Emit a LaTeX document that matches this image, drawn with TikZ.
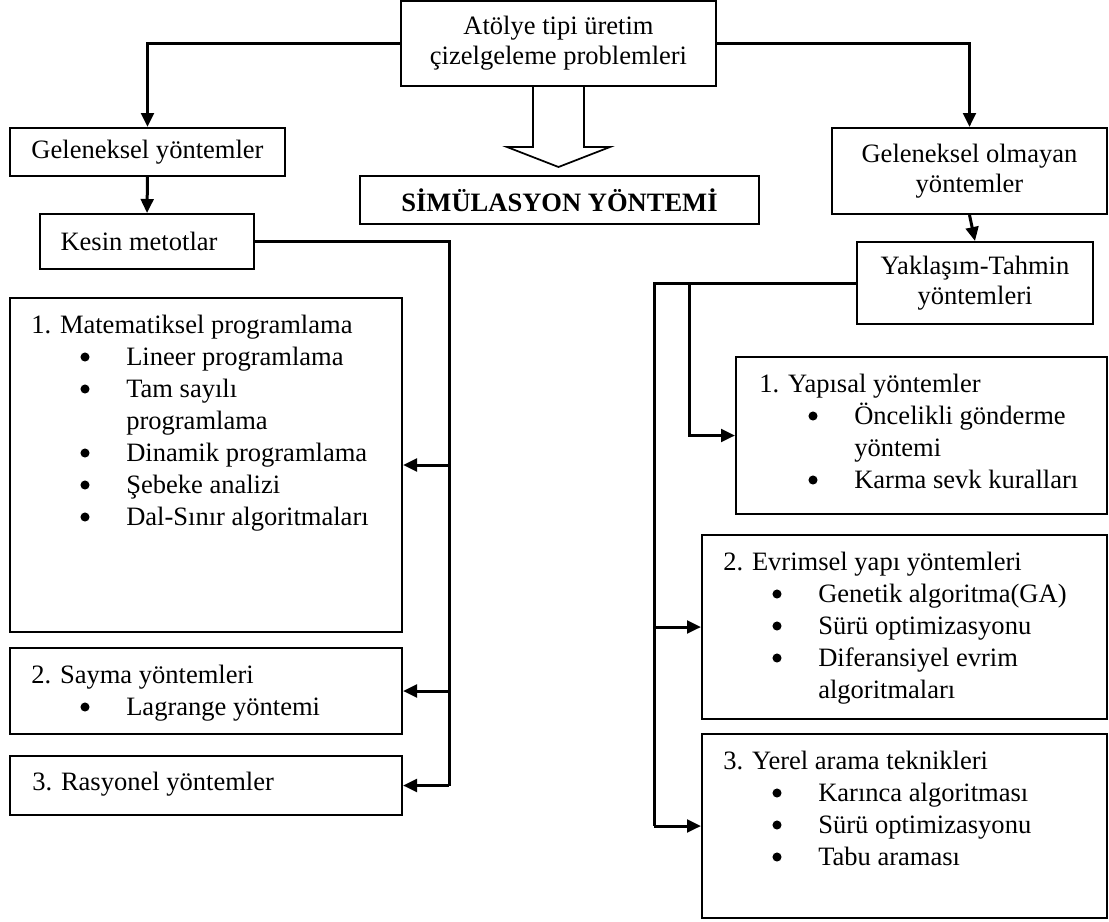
\documentclass[tikz,border=0pt]{standalone}
\usepackage{fontspec}
\setmainfont{Liberation Serif}
\usetikzlibrary{arrows.meta,calc}

\tikzset{
  box/.style={draw, line width=1.5pt, inner sep=0pt, align=center,
              font=\fontsize{19.9}{22.5}\selectfont},
  lbl/.style={inner sep=0pt, anchor=base west, font=\fontsize{19.9}{24}\selectfont},
  wire/.style={line width=2.25pt},
  link/.style={wire, -{Triangle[length=10.5pt,width=9.5pt]}},
  hollow/.style={line width=1.3pt, line join=miter},
}

% list lines: kind 0 = heading, 1 = bullet item, 2 = continuation of an item
% #1 name prefix, #2 left x, #3 first baseline, #4 kind/text list
\newcommand\listlines[4]{%
  \foreach \k/\txt [count=\i] in {#4} {%
    \pgfmathsetmacro\yy{#3+32*(\i-1)}%
    \node[lbl] (#1-\i) at ({#2+(\k>0)*95},\yy) {\txt};%
    \ifnum\k=1 \fill ({#2+54},{\yy-8}) circle[radius=3.4pt];\fi
  }}

\begin{document}
\begin{tikzpicture}[x=0.75pt, y=-0.75pt]
\useasboundingbox (0,0) rectangle (1109,921);

% root
\node[box, minimum width=0.75*315pt, minimum height=0.75*85pt] (top) at (558.5,43.5)
  {Atölye tipi üretim\\çizelgeleme problemleri};

% traditional branch
\node[box, minimum width=0.75*275pt, minimum height=0.75*48pt] (gel) at (147.5,152)
  {Geleneksel yöntemler};
\node[box, minimum width=0.75*214pt, minimum height=0.75*55pt] (kes) at (147,241.5)
  {Kesin metotlar\hspace*{12pt}};
\node[box, minimum width=0.75*392pt, minimum height=0.75*334pt] (m1) at (206,465) {};
\node[box, minimum width=0.75*392pt, minimum height=0.75*86pt] (m2) at (206,691) {};
\node[box, minimum width=0.75*392pt, minimum height=0.75*59pt] (m3) at (206,785.5) {};

% simulation
\node[box, minimum width=0.75*399pt, minimum height=0.75*48pt, font=\fontsize{19.9}{24}\selectfont\bfseries]
  (sim) at (559.5,200) {SİMÜLASYON YÖNTEMİ};

% non-traditional branch
\node[box, minimum width=0.75*275pt, minimum height=0.75*86pt] (golm) at (969.5,171)
  {Geleneksel olmayan\\yöntemler};
\node[box, minimum width=0.75*236pt, minimum height=0.75*82pt] (yak) at (975,283)
  {Yaklaşım-Tahmin\\yöntemleri};
\node[box, minimum width=0.75*371pt, minimum height=0.75*157pt] (y1) at (921.5,435.5) {};
\node[box, minimum width=0.75*405pt, minimum height=0.75*184pt] (y2) at (904.5,627) {};
\node[box, minimum width=0.75*405pt, minimum height=0.75*184pt] (y3) at (904.5,826) {};

% list contents
\listlines{m1t}{31}{333}{0/1. Matematiksel programlama, 1/Lineer programlama,
  1/Tam sayılı, 2/programlama, 1/Dinamik programlama, 1/Şebeke analizi,
  1/Dal-Sınır algoritmaları}
\listlines{m2t}{31}{683}{0/2. Sayma yöntemleri, 1/Lagrange yöntemi}
\listlines{m3t}{32}{790}{0/3. Rasyonel yöntemler}
\listlines{y1t}{759}{392}{0/1. Yapısal yöntemler, 1/Öncelikli gönderme,
  2/yöntemi, 1/Karma sevk kuralları}
\listlines{y2t}{723}{570}{0/2. Evrimsel yapı yöntemleri, 1/Genetik algoritma(GA),
  1/Sürü optimizasyonu, 1/Diferansiyel evrim, 2/algoritmaları}
\listlines{y3t}{723}{769}{0/3. Yerel arama teknikleri, 1/Karınca algoritması,
  1/Sürü optimizasyonu, 1/Tabu araması}

% trunk lines
\coordinate (ltrunk) at (449,0);
\coordinate (rtrunk) at (654,0);
\coordinate (rbranch) at (689,0);

% connectors from the root
\draw[link] (top.west) -| (gel.north);
\draw[link] (top.east) -| (golm.north);
\draw[link] (gel.south) -- (kes.north);
\draw[link] (golm.south) -- (yak.north);

% exact methods
\draw[wire] (kes.east) -| (ltrunk |- m3.east);
\draw[link] (ltrunk |- m1.east) -- (m1.east);
\draw[link] (ltrunk |- m2.east) -- (m2.east);
\draw[link] (ltrunk |- m3.east) -- (m3.east);

% approximate methods
\draw[wire] (yak.west) -- (rtrunk |- yak.west) -- (rtrunk |- y3.west);
\draw[link] (rtrunk |- y3.west) -- (y3.west);
\draw[link] (rtrunk |- y2.west) -- (y2.west);
\draw[link] (rbranch |- yak.west) |- (y1.west);

% hollow block arrow towards the simulation box
\draw[hollow] ($(top.south)+(-25.5,0)$) -- ++(0,60) -- ++(-26,0)
  -- ($(top.south)+(0,80)$) -- ($(top.south)+(51.5,60)$) -- ++(-26,0)
  -- ($(top.south)+(25.5,0)$);
\end{tikzpicture}
\end{document}
